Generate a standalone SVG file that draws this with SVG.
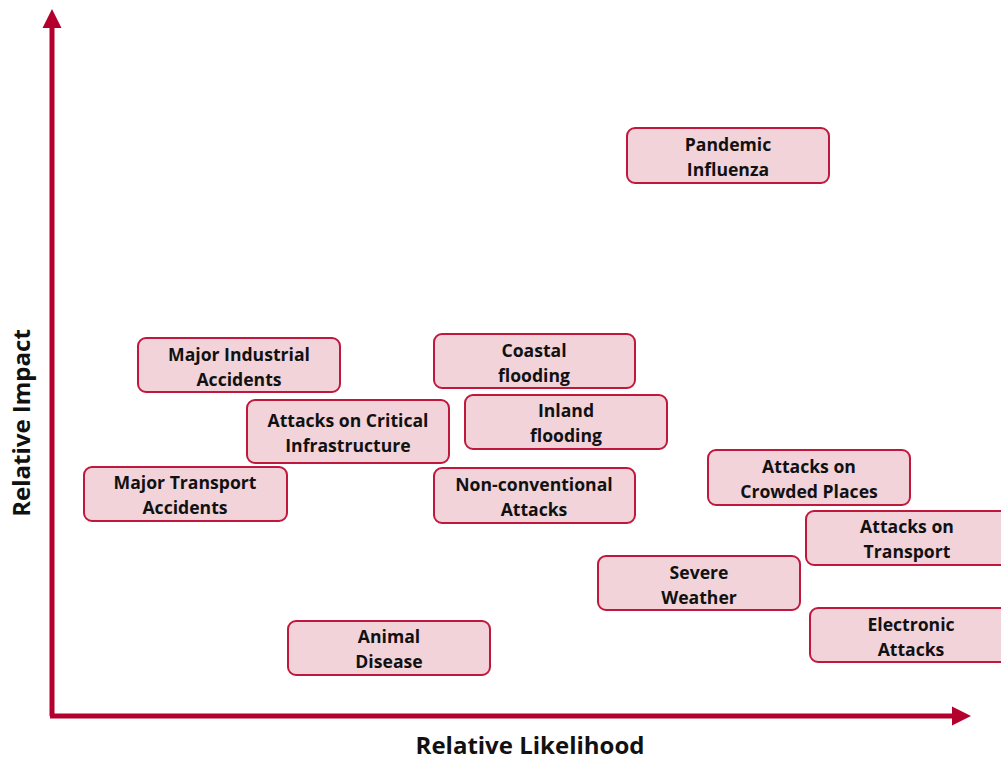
<svg xmlns="http://www.w3.org/2000/svg" width="1001" height="760" viewBox="0 0 1001 760">
  <style>
    .box { fill: #f2d3da; stroke: #c0183c; stroke-width: 2; }
    .lbl { font-family: "Open Sans", Lato, "Liberation Sans", sans-serif; font-weight: bold; font-size: 17.6px; fill: #111; text-anchor: middle; }
    .axis { stroke: #b3002d; stroke-width: 5; fill: none; }
    .axlbl { font-family: "Open Sans", Lato, "Liberation Sans", sans-serif; font-weight: bold; font-size: 24px; fill: #111; text-anchor: middle; }
  </style>
  <rect width="1001" height="760" fill="#ffffff"/>

  <g id="axes">
    <line class="axis" x1="52" y1="716" x2="52" y2="26"/>
    <polygon points="52,9 61.5,28 42.5,28" fill="#b3002d"/>
    <line class="axis" x1="50" y1="716" x2="954" y2="716"/>
    <polygon points="971,716 952,706.5 952,725.5" fill="#b3002d"/>
    <text class="axlbl" x="530" y="754">Relative Likelihood</text>
    <text class="axlbl" transform="translate(30,423) rotate(-90)">Relative Impact</text>
  </g>

  <g id="pandemic-influenza">
    <rect class="box" x="627" y="128" width="202" height="55" rx="8"/>
    <text class="lbl" x="728" y="150.5">Pandemic</text>
    <text class="lbl" x="728" y="175.5">Influenza</text>
  </g>
  <g id="major-industrial-accidents">
    <rect class="box" x="138" y="338" width="202" height="54" rx="8"/>
    <text class="lbl" x="239" y="360.5">Major Industrial</text>
    <text class="lbl" x="239" y="385.5">Accidents</text>
  </g>
  <g id="coastal-flooding">
    <rect class="box" x="434" y="334" width="201" height="54" rx="8"/>
    <text class="lbl" x="534" y="356.5">Coastal</text>
    <text class="lbl" x="534" y="381.5">flooding</text>
  </g>
  <g id="attacks-critical-infrastructure">
    <rect class="box" x="247" y="400" width="202" height="63" rx="8"/>
    <text class="lbl" x="348" y="426.5">Attacks on Critical</text>
    <text class="lbl" x="348" y="451.5">Infrastructure</text>
  </g>
  <g id="inland-flooding">
    <rect class="box" x="465" y="395" width="202" height="54" rx="8"/>
    <text class="lbl" x="566" y="416.5">Inland</text>
    <text class="lbl" x="566" y="441.5">flooding</text>
  </g>
  <g id="major-transport-accidents">
    <rect class="box" x="84" y="467" width="203" height="54" rx="8"/>
    <text class="lbl" x="185" y="488.5">Major Transport</text>
    <text class="lbl" x="185" y="513.5">Accidents</text>
  </g>
  <g id="non-conventional-attacks">
    <rect class="box" x="434" y="468" width="201" height="55" rx="8"/>
    <text class="lbl" x="534" y="490.5">Non-conventional</text>
    <text class="lbl" x="534" y="515.5">Attacks</text>
  </g>
  <g id="attacks-crowded-places">
    <rect class="box" x="708" y="450" width="202" height="55" rx="8"/>
    <text class="lbl" x="809" y="472.5">Attacks on</text>
    <text class="lbl" x="809" y="497.5">Crowded Places</text>
  </g>
  <g id="attacks-transport">
    <rect class="box" x="806" y="511" width="204" height="54" rx="8"/>
    <text class="lbl" x="907" y="532.5">Attacks on</text>
    <text class="lbl" x="907" y="557.5">Transport</text>
  </g>
  <g id="severe-weather">
    <rect class="box" x="598" y="556" width="202" height="54" rx="8"/>
    <text class="lbl" x="699" y="578.5">Severe</text>
    <text class="lbl" x="699" y="603.5">Weather</text>
  </g>
  <g id="electronic-attacks">
    <rect class="box" x="810" y="608" width="204" height="54" rx="8"/>
    <text class="lbl" x="911" y="630.5">Electronic</text>
    <text class="lbl" x="911" y="655.5">Attacks</text>
  </g>
  <g id="animal-disease">
    <rect class="box" x="288" y="621" width="202" height="54" rx="8"/>
    <text class="lbl" x="389" y="642.5">Animal</text>
    <text class="lbl" x="389" y="667.5">Disease</text>
  </g>
</svg>
